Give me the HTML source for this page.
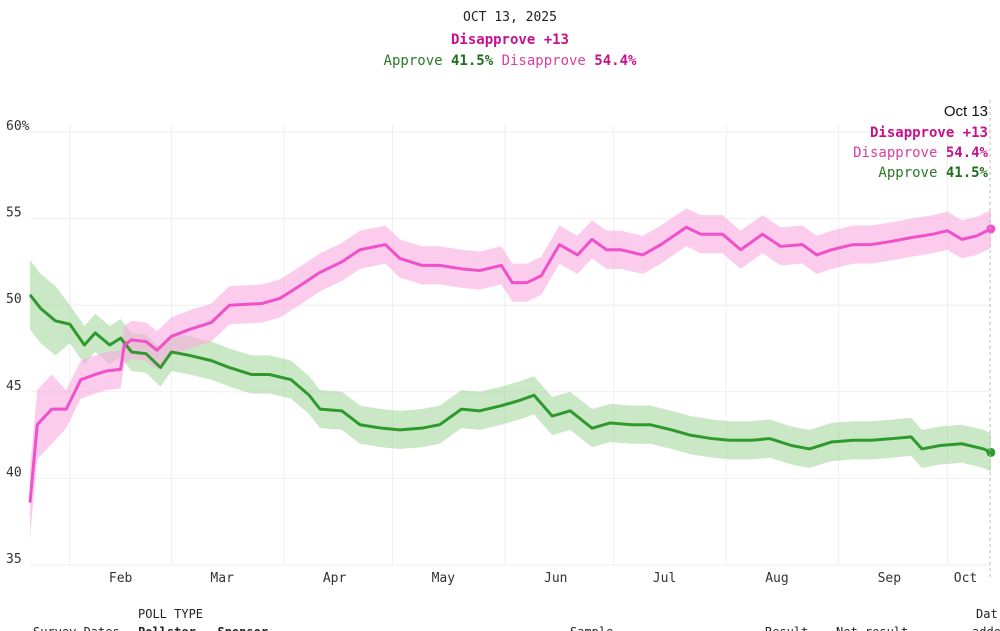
<!DOCTYPE html>
<html><head><meta charset="utf-8"><style>
body{margin:0;background:#fff;width:1000px;height:631px;overflow:hidden;font-family:"DejaVu Sans Mono","Liberation Mono",monospace;}
svg{position:absolute;left:0;top:0}
</style></head><body>
<svg width="1000" height="631">
<g id="hdr">
<text x="510" y="21" text-anchor="middle" font-size="13" fill="#222">OCT 13, 2025</text>
<text x="510" y="44" text-anchor="middle" font-size="14" font-weight="bold" fill="#c8108c">Disapprove +13</text>
<text x="510" y="65" text-anchor="middle" font-size="14"><tspan fill="#2a7a2a">Approve </tspan><tspan fill="#1e6e1e" font-weight="bold">41.5%</tspan><tspan fill="#d9409f"> Disapprove </tspan><tspan fill="#c8108c" font-weight="bold">54.4%</tspan></text>
</g>
<g id="grid"></g><g id="bands"></g><g id="lines"></g><g id="axes"></g>
<line x1="990" y1="100" x2="990" y2="580" stroke="#bbb" stroke-dasharray="3,3"/>
<g font-size="14" text-anchor="end">
<text x="988" y="116" font-family="Liberation Sans,sans-serif" font-size="15" fill="#111">Oct 13</text>
<text x="988" y="137" font-weight="bold" fill="#c8108c">Disapprove +13</text>
<text x="988" y="157"><tspan fill="#d9409f">Disapprove </tspan><tspan fill="#c8108c" font-weight="bold">54.4%</tspan></text>
<text x="988" y="177"><tspan fill="#2a7a2a">Approve </tspan><tspan fill="#1e6e1e" font-weight="bold">41.5%</tspan></text>
</g>
<g font-size="12" fill="#222">
<text x="138" y="618">POLL TYPE</text>
<text x="33" y="636">Survey Dates</text>
<text x="138" y="636" font-weight="bold">Pollster — Sponsor</text>
<text x="570" y="636">Sample</text>
<text x="765" y="636">Result</text>
<text x="836" y="636">Net result</text>
<text x="976" y="618">Dat</text>
<text x="972" y="636">adde</text>
</g>
</svg>
<script>
const disDays=[0,2,6,10,14,18,21,25,26,28,32,35,39,44,50,55,64,69,75,80,86,91,98,102,108,113,119,124,130,133,137,141,146,151,155,159,163,169,174,181,185,191,196,202,207,213,217,221,227,232,238,243,249,253,257,261,265];
const disVals=[38.6,43.1,44.0,44.0,45.7,46.0,46.2,46.3,47.7,48.0,47.9,47.4,48.2,48.6,49.0,50.0,50.1,50.4,51.2,51.9,52.5,53.2,53.5,52.7,52.3,52.3,52.1,52.0,52.3,51.3,51.3,51.7,53.5,52.9,53.8,53.2,53.2,52.9,53.5,54.5,54.1,54.1,53.2,54.1,53.4,53.5,52.9,53.2,53.5,53.5,53.7,53.9,54.1,54.3,53.8,54.0,54.4];
const appDays=[0,3,7,11,15,18,22,25,28,32,36,39,44,50,55,61,66,72,77,80,86,91,97,102,108,113,119,124,130,135,139,144,149,155,160,166,171,177,182,188,193,199,204,210,215,221,227,232,238,243,246,251,257,263,265];
const appVals=[50.6,49.8,49.1,48.9,47.7,48.4,47.7,48.1,47.3,47.2,46.4,47.3,47.1,46.8,46.4,46.0,46.0,45.7,44.8,44.0,43.9,43.1,42.9,42.8,42.9,43.1,44.0,43.9,44.2,44.5,44.8,43.6,43.9,42.9,43.2,43.1,43.1,42.8,42.5,42.3,42.2,42.2,42.3,41.9,41.7,42.1,42.2,42.2,42.3,42.4,41.7,41.9,42.0,41.7,41.5];
const yTicks=[60,55,50,45,40,35];
const monthNames=["Feb","Mar","Apr","May","Jun","Jul","Aug","Sep","Oct"];
const monthStarts=[11,39,70,100,131,161,192,223,253];
const monthMids=[25,53,84,114,145,175,206,237,258];
const NS="http://www.w3.org/2000/svg";
const X=d=>30+d*3.626, Y=v=>132+(60-v)*17.32;
function mk(t,a,p){const e=document.createElementNS(NS,t);for(const k in a)e.setAttribute(k,a[k]);p.appendChild(e);return e;}
const grid=document.getElementById('grid'),axes=document.getElementById('axes'),bands=document.getElementById('bands'),lines=document.getElementById('lines');
yTicks.forEach(v=>{const l=mk('line',{x1:30,x2:990,y1:Y(v),y2:Y(v),stroke:'#eee'},grid);


const t=mk('text',{x:6,y:Y(v)-2,'font-size':13,fill:'#333'},axes);t.textContent=v===60?'60%':v;

});
monthStarts.forEach(d=>{const l=mk('line',{x1:X(d),x2:X(d),y1:125,y2:Y(35),stroke:'#eee'},grid);

});
monthNames.forEach((m,i)=>{const t=mk('text',{x:X(monthMids[i]),y:582,'text-anchor':'middle','font-size':13,fill:'#333'},axes);t.textContent=m;

});
function band(days,vals,fill,name){const w=i=>i<3?2:1.1;let top=days.map((d,i)=>X(d)+','+Y(vals[i]+w(i))),bot=days.map((d,i)=>X(d)+','+Y(vals[i]-w(i))).reverse();
const p=mk('polygon',{points:top.concat(bot).join(' '),fill:fill},bands);

}
band(appDays,appVals,'rgba(150,210,140,0.5)','approve-band');
band(disDays,disVals,'rgba(250,170,225,0.6)','disapprove-band');
function line(days,vals,col,name){const p=mk('polyline',{points:days.map((d,i)=>X(d)+','+Y(vals[i])).join(' '),fill:'none',stroke:col,'stroke-width':3,'stroke-linejoin':'round'},lines);


const n=days.length-1;const c=mk('circle',{cx:X(days[n]),cy:Y(vals[n]),r:4.5,fill:col},lines);

}
line(appDays,appVals,'#2e9a2e','approve-line');
line(disDays,disVals,'#f050c8','disapprove-line');
</script>
</body></html>
